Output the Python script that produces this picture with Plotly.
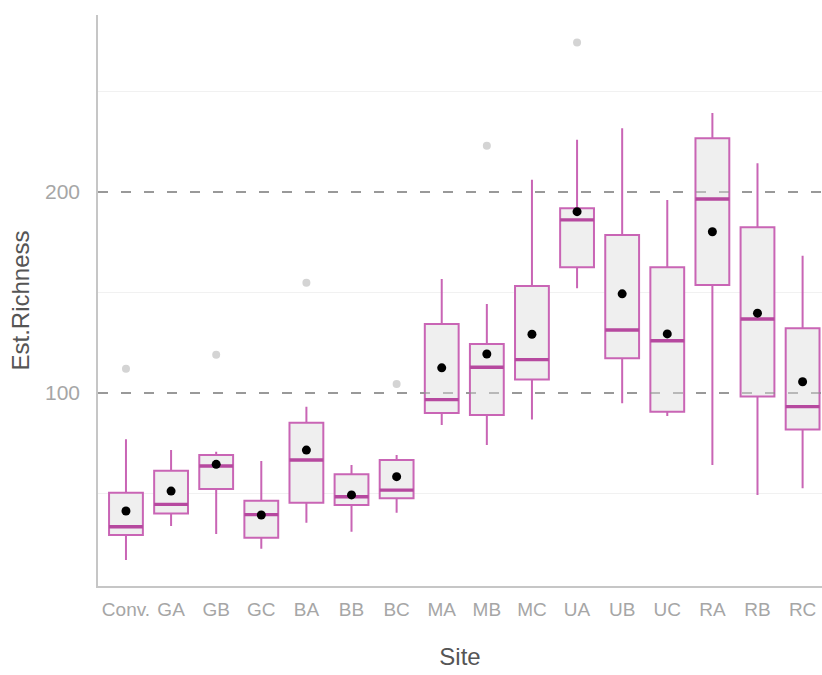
import plotly.graph_objects as go

# Estimated species richness per site: box summaries, means and outliers
sites = ["Conv.", "GA", "GB", "GC", "BA", "BB", "BC", "MA", "MB", "MC",
         "UA", "UB", "UC", "RA", "RB", "RC"]
lower_whisker = [16.9, 33.8, 29.9, 22.5, 35.5, 31.0, 40.4, 84.1, 74.1, 86.8,
                 152.1, 94.9, 88.5, 64.2, 49.3, 52.6]
q1 = [29.4, 40.1, 52.2, 28.0, 45.4, 44.3, 47.6, 90.1, 89.1, 106.7,
      162.5, 117.3, 90.7, 153.7, 98.2, 81.9]
median = [33.5, 44.6, 63.7, 39.5, 66.7, 48.4, 51.7, 96.7, 112.8, 116.6,
          186.1, 131.3, 126.0, 196.5, 136.8, 93.2]
q3 = [50.4, 61.3, 69.2, 46.4, 85.2, 59.6, 66.7, 134.3, 124.4, 153.2,
      191.9, 178.6, 162.5, 226.7, 182.4, 132.2]
upper_whisker = [77.0, 71.6, 70.8, 66.2, 93.2, 64.2, 69.2, 156.7, 144.3, 206.0,
                 225.9, 231.7, 196.0, 239.2, 214.3, 168.2]
mean = [41.3, 51.2, 64.5, 39.3, 71.6, 49.3, 58.4, 112.5, 119.4, 129.2,
        190.2, 149.3, 129.4, 180.2, 139.7, 105.6]

outlier_sites = ["Conv.", "GB", "BA", "BC", "MB", "UA"]
outlier_values = [112.0, 119.0, 154.8, 104.5, 223.0, 274.3]

reference_levels = [100, 200]

BOX_LINE = "#C965B5"
MEDIAN_LINE = "#B6499F"
BOX_FILL = "#EFEFEF"

fig = go.Figure()

# Boxes and whiskers from precomputed statistics (no whisker caps)
fig.add_trace(go.Box(
    x=sites, q1=q1, median=median, q3=q3,
    lowerfence=lower_whisker, upperfence=upper_whisker,
    width=0.75, whiskerwidth=0, boxpoints=False,
    fillcolor=BOX_FILL, line=dict(color=BOX_LINE, width=2),
    showlegend=False, hoverinfo="skip",
))

# Thicker median bar: a flat box sitting at the median
fig.add_trace(go.Box(
    x=sites, q1=median, median=median, q3=median,
    lowerfence=median, upperfence=median,
    width=0.75, whiskerwidth=0, boxpoints=False,
    fillcolor="rgba(0,0,0,0)", line=dict(color=MEDIAN_LINE, width=3.4),
    showlegend=False, hoverinfo="skip",
))

# Outlying observations
fig.add_trace(go.Scatter(
    x=outlier_sites, y=outlier_values, mode="markers",
    marker=dict(color="#D4D4D4", size=8),
    showlegend=False, hoverinfo="skip",
))

# Dashed reference lines drawn over the boxes
for level in reference_levels:
    fig.add_hline(y=level, line=dict(color="rgba(140,140,140,0.75)", width=1.6,
                                     dash="10px,13px"), layer="above")

# Site means
fig.add_trace(go.Scatter(
    x=sites, y=mean, mode="markers",
    marker=dict(color="black", size=9),
    showlegend=False, hoverinfo="skip",
))

fig.update_layout(
    width=822, height=675,
    margin=dict(l=98, r=0, t=15, b=89),
    paper_bgcolor="white", plot_bgcolor="white",
    font=dict(family="Liberation Sans, Arial, sans-serif"),
    xaxis=dict(
        type="category", categoryorder="array", categoryarray=sites,
        range=[-0.62, 15.43],
        showgrid=False, zeroline=False,
        showline=True, linecolor="#C6C6C6", linewidth=1.5,
        ticks="", ticklabelstandoff=5,
        tickfont=dict(size=19, color="#A6A6A6"),
        title=dict(text="Site", font=dict(size=24, color="#555555"), standoff=30),
    ),
    yaxis=dict(
        range=[4, 288],
        tickvals=reference_levels,
        showgrid=True, gridcolor="rgba(140,140,140,0.75)", gridwidth=1.6,
        griddash="10px,13px",
        minor=dict(tickvals=[50, 150, 250], showgrid=True,
                   gridcolor="#F1F1F1", gridwidth=1.3, griddash="solid"),
        zeroline=False,
        showline=True, linecolor="#C6C6C6", linewidth=1.5,
        ticks="", ticklabelstandoff=12,
        tickfont=dict(size=21, color="#A6A6A6"),
        title=dict(text="Est.Richness", font=dict(size=24, color="#555555"), standoff=9),
    ),
)

fig.write_html("out.html")
